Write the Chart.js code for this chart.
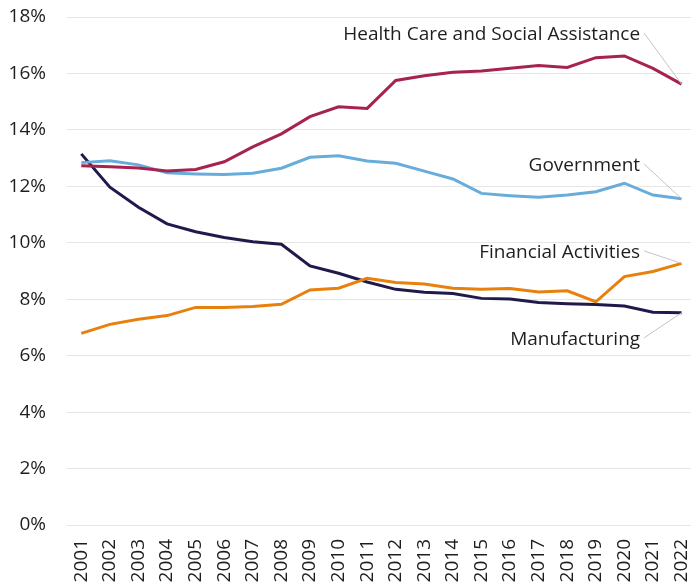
<!DOCTYPE html>
<html>
<head>
<meta charset="utf-8">
<script src="https://cdn.jsdelivr.net/npm/chart.js@4.4.1/dist/chart.umd.min.js"></script>
<style>
  html, body { margin: 0; padding: 0; background: #fff; overflow: hidden; }
  #wrap { width: 691px; height: 584px; }
</style>
</head>
<body>
<div id="wrap"><canvas id="chart" width="691" height="584"></canvas></div>
<script>
// share of employment by sector, 2001-2022
var years = [2001, 2002, 2003, 2004, 2005, 2006, 2007, 2008, 2009, 2010, 2011,
             2012, 2013, 2014, 2015, 2016, 2017, 2018, 2019, 2020, 2021, 2022];

var healthCare = [12.73, 12.69, 12.65, 12.54, 12.60, 12.87, 13.40, 13.86, 14.47, 14.82, 14.76,
                  15.75, 15.92, 16.04, 16.09, 16.18, 16.28, 16.21, 16.56, 16.62, 16.18, 15.62];
var government = [12.84, 12.91, 12.76, 12.48, 12.44, 12.42, 12.46, 12.64, 13.03, 13.08, 12.90,
                  12.82, 12.54, 12.26, 11.75, 11.67, 11.61, 11.69, 11.81, 12.11, 11.69, 11.56];
var financial = [6.79, 7.11, 7.29, 7.42, 7.71, 7.71, 7.74, 7.82, 8.33, 8.39, 8.74,
                 8.59, 8.54, 8.39, 8.35, 8.38, 8.26, 8.30, 7.91, 8.80, 8.98, 9.27];
var manufacturing = [13.15, 11.97, 11.26, 10.67, 10.39, 10.19, 10.04, 9.95, 9.18, 8.92, 8.61,
                     8.35, 8.25, 8.20, 8.03, 8.01, 7.88, 7.84, 7.81, 7.76, 7.54, 7.52];

var seriesNames = ["Health Care and Social Assistance", "Government", "Financial Activities", "Manufacturing"];
var seriesColors = ["#A6234F", "#68ACDB", "#E8800E", "#1F1A4B"];
// where each end label sits, in data units (year, percent)
var labelYear = [2020.55, 2020.55, 2020.55, 2020.55];
var labelValue = [17.36, 12.72, 9.64, 6.56];

var yTicks = [0, 2, 4, 6, 8, 10, 12, 14, 16, 18];

function toPoints(values){
	return values.map(function(v, i){ return {x: years[i], y: v}; });
}

var allSeries = [healthCare, government, financial, manufacturing];
var datasets = allSeries.map(function(values, i){
	return {
		label: seriesNames[i],
		data: toPoints(values),
		borderColor: seriesColors[i],
		backgroundColor: seriesColors[i],
		borderWidth: 3,
		pointRadius: 0,
		tension: 0,
		fill: false
	};
});

var FONT = "'Open Sans', 'Noto Sans', sans-serif";

var endLabels = {
	id: "endLabels",
	afterDatasetsDraw: function(chart){
		var ctx = chart.ctx;
		var xs = chart.scales.x, ys = chart.scales.y;
		ctx.save();
		ctx.font = "19px " + FONT;
		ctx.textAlign = "right";
		ctx.textBaseline = "middle";
		chart.data.datasets.forEach(function(ds, i){
			var last = ds.data[ds.data.length - 1];
			var px = xs.getPixelForValue(last.x);
			var py = ys.getPixelForValue(last.y);
			var lx = xs.getPixelForValue(labelYear[i]);
			var ly = ys.getPixelForValue(labelValue[i]);
			ctx.strokeStyle = "#c4c4c4";
			ctx.lineWidth = 1;
			ctx.beginPath();
			ctx.moveTo(lx + 4, ly - 2);
			ctx.lineTo(px, py);
			ctx.stroke();
			ctx.fillStyle = "#1e1e1e";
			ctx.fillText(ds.label, lx, ly);
		});
		ctx.restore();
	}
};

var chart = new Chart(document.getElementById("chart"), {
	type: "line",
	data: { datasets: datasets },
	options: {
		responsive: false,
		animation: false,
		layout: { padding: { top: 17, right: 0, left: 0, bottom: 0 } },
		plugins: {
			legend: { display: false },
			tooltip: { enabled: false }
		},
		scales: {
			x: {
				type: "linear",
				min: 2000.5,
				max: 2022.33,
				grid: { display: false, drawTicks: false },
				border: { display: false },
				afterBuildTicks: function(scale){
					scale.ticks = years.map(function(y){ return {value: y}; });
				},
				afterFit: function(scale){
					scale.height = 59;
					scale.paddingLeft = 0;
					scale.paddingRight = 0;
				},
				ticks: {
					autoSkip: false,
					minRotation: 90,
					maxRotation: 90,
					padding: 14,
					color: "#1e1e1e",
					font: { family: FONT, size: 19 },
					callback: function(v){ return String(v); }
				}
			},
			y: {
				min: 0,
				max: 18,
				grid: { color: "#e6e6e6", lineWidth: 1, drawTicks: false },
				border: { display: false },
				afterBuildTicks: function(scale){
					scale.ticks = yTicks.map(function(v){ return {value: v}; });
				},
				afterFit: function(scale){
					scale.width = 67;
					scale.paddingTop = 0;
					scale.paddingBottom = 0;
				},
				ticks: {
					padding: 21,
					color: "#1e1e1e",
					font: { family: FONT, size: 19 },
					callback: function(v){ return v + "%"; }
				}
			}
		}
	},
	plugins: [endLabels]
});
</script>
</body>
</html>
